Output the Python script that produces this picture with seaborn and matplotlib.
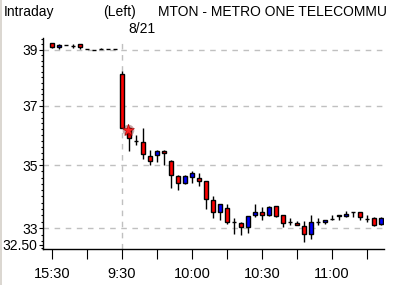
import numpy as np
import pandas as pd
import seaborn as sns
import matplotlib
matplotlib.use("Agg")
import matplotlib.pyplot as plt
from matplotlib.ticker import FixedLocator, FixedFormatter, NullFormatter
from matplotlib.lines import Line2D

# ---- data (3-minute bars; first 10 bars are the prior session close) ----
opens = [39.23, 39.09, 39.16, 39.13, 39.20, 39.02, 39.00, 39.03, 39.02, 39.02,
         38.13, 36.25, 35.81, 35.78, 35.32, 35.34, 35.49, 35.13, 34.66, 34.43,
         34.63, 34.60, 34.48, 33.88, 33.50, 33.63, 33.20, 33.16, 33.03, 33.40,
         33.49, 33.40, 33.68, 33.40, 33.20, 33.16, 33.07, 32.81, 33.19, 33.19,
         33.29, 33.39, 33.38, 33.50, 33.50, 33.29, 33.31, 33.14]
highs = [39.24, 39.22, 39.16, 39.20, 39.21, 39.02, 39.00, 39.05, 39.02, 39.02,
         38.23, 36.28, 36.00, 36.23, 35.52, 35.50, 35.50, 35.16, 34.67, 34.67,
         34.80, 34.74, 34.50, 34.02, 33.76, 33.77, 33.32, 33.19, 33.38, 33.77,
         33.66, 33.70, 33.70, 33.41, 33.32, 33.22, 33.22, 33.41, 33.32, 33.26,
         33.40, 33.40, 33.53, 33.50, 33.50, 33.40, 33.34, 33.36]
lows = [39.05, 39.04, 39.16, 39.08, 39.04, 39.02, 39.00, 39.01, 39.02, 39.02,
        36.24, 35.47, 35.68, 35.22, 35.00, 35.11, 35.02, 34.26, 34.19, 34.39,
        34.44, 34.34, 33.59, 33.33, 33.26, 33.13, 32.81, 32.79, 32.85, 33.34,
        33.24, 33.38, 33.34, 33.05, 33.11, 33.09, 32.57, 32.68, 33.11, 33.13,
        33.24, 33.24, 33.34, 33.34, 33.24, 33.19, 33.07, 33.09]
closes = [39.11, 39.17, 39.16, 39.13, 39.09, 39.02, 39.00, 39.03, 39.02, 39.02,
          36.26, 35.92, 35.81, 35.39, 35.14, 35.49, 35.41, 34.70, 34.44, 34.66,
          34.76, 34.50, 33.91, 33.52, 33.75, 33.19, 33.20, 33.03, 33.37, 33.50,
          33.40, 33.66, 33.39, 33.17, 33.20, 33.11, 32.81, 33.19, 33.19, 33.25,
          33.29, 33.40, 33.44, 33.50, 33.34, 33.29, 33.09, 33.31]

tick_positions = [0, 5, 10, 15, 20, 25, 30, 35, 40, 45]
tick_labels = ["15:30", "", "9:30", "", "10:00", "", "10:30", "", "11:00", ""]
y_major = [32.5, 33, 35, 37, 39]
y_major_labels = ["32.50", "33", "35", "37", "39"]
session_break = 10          # first bar of 8/21
event_index = [10.8]        # marker bar position
event_price = [36.19]

# ---- style ----
sns.set_theme(style="white")
plt.rcParams['font.family'] = ['Liberation Sans', 'DejaVu Sans']

fig = plt.figure(figsize=(3.93, 2.85), dpi=100)
fig.patch.set_facecolor("white")
ax = fig.add_axes([43 / 393, 36 / 285, 341 / 393, 211 / 285])
ax.set_facecolor("white")
ax.set_yscale("log")

df = pd.DataFrame({"i": np.arange(len(opens)), "o": opens, "h": highs,
                   "l": lows, "c": closes})
df["color"] = np.where(df.c > df.o, "#0000ff",
                       np.where(df.c < df.o, "#ff0000", "black"))
df["bottom"] = np.minimum(df.o, df.c)
df["height"] = (df.c - df.o).abs()

# grid
ax.axvline(session_break, color="#c0c0c0", lw=1, ls=(0, (4, 4)), zorder=1)

# wicks and bodies
ax.vlines(df.i, df.l, df.h, color="black", lw=1.0, zorder=2)
ax.bar(df.i, df.height, bottom=df.bottom, width=0.64, color=df.color,
       edgecolor="black", linewidth=1.0, zorder=3)

# event marker
sns.scatterplot(x=event_index, y=event_price, marker="o", s=70, color="#600000",
                alpha=0.35, linewidth=0, ax=ax, zorder=4, legend=False)
sns.scatterplot(x=event_index, y=event_price, marker="*", s=80, color="#ff2020",
                edgecolor="#a00000", linewidth=0.4, ax=ax, zorder=5, legend=False)

ax.set_xlim(-1.29, 47.43)
ax.set_ylim(32.365, 39.43)

ax.xaxis.set_major_locator(FixedLocator(tick_positions))
ax.xaxis.set_major_formatter(FixedFormatter(tick_labels))
ax.yaxis.set_major_locator(FixedLocator(y_major))
ax.yaxis.set_major_formatter(FixedFormatter(y_major_labels))
minor = [round(32.4 + 0.2 * k, 1) for k in range(36)]
minor = [m for m in minor if all(abs(m - M) > 1e-6 for M in y_major)]
ax.yaxis.set_minor_locator(FixedLocator(minor))
ax.yaxis.set_minor_formatter(NullFormatter())

ax.grid(axis="y", which="major", color="#c0c0c0", lw=1, ls=(0, (4, 4)))
ax.set_axisbelow(True)
for loc, gl in zip(ax.yaxis.get_majorticklocs(), ax.yaxis.get_gridlines()):
    if abs(loc - 32.5) < 1e-6:
        gl.set_visible(False)

for s in ["top", "right"]:
    ax.spines[s].set_visible(False)
for s in ["left", "bottom"]:
    ax.spines[s].set_color("black")
    ax.spines[s].set_linewidth(1.0)

ax.tick_params(axis="y", which="major", direction="out", length=3, width=0.8,
               pad=1, labelsize=10, colors="black", left=True)
ax.tick_params(axis="y", which="minor", direction="out", length=1.8, width=0.8,
               colors="black", left=True)
ax.tick_params(axis="x", which="major", direction="out", length=7.2, width=0.8,
               pad=6, labelsize=10.5, colors="black", bottom=True)

# header texts
yb = 1 - 16 / 285
fig.text(4 / 393, yb, "Intraday", fontsize=10, va="baseline", color="black")
fig.text(103 / 393, yb, "(Left)", fontsize=10, va="baseline", color="black")
fig.text(158 / 393, yb, "MTON - METRO ONE TELECOMMU", fontsize=10,
         va="baseline", color="black")
fig.text(128 / 393, 1 - 32.7 / 285, "8/21", fontsize=10, va="baseline", color="black")

fig.add_artist(Line2D([0.6 / 393, 0.6 / 393], [0, 1], color="#d4d0c8", lw=1.2,
                      transform=fig.transFigure))

fig.savefig("out.png", dpi=100, facecolor="white")
